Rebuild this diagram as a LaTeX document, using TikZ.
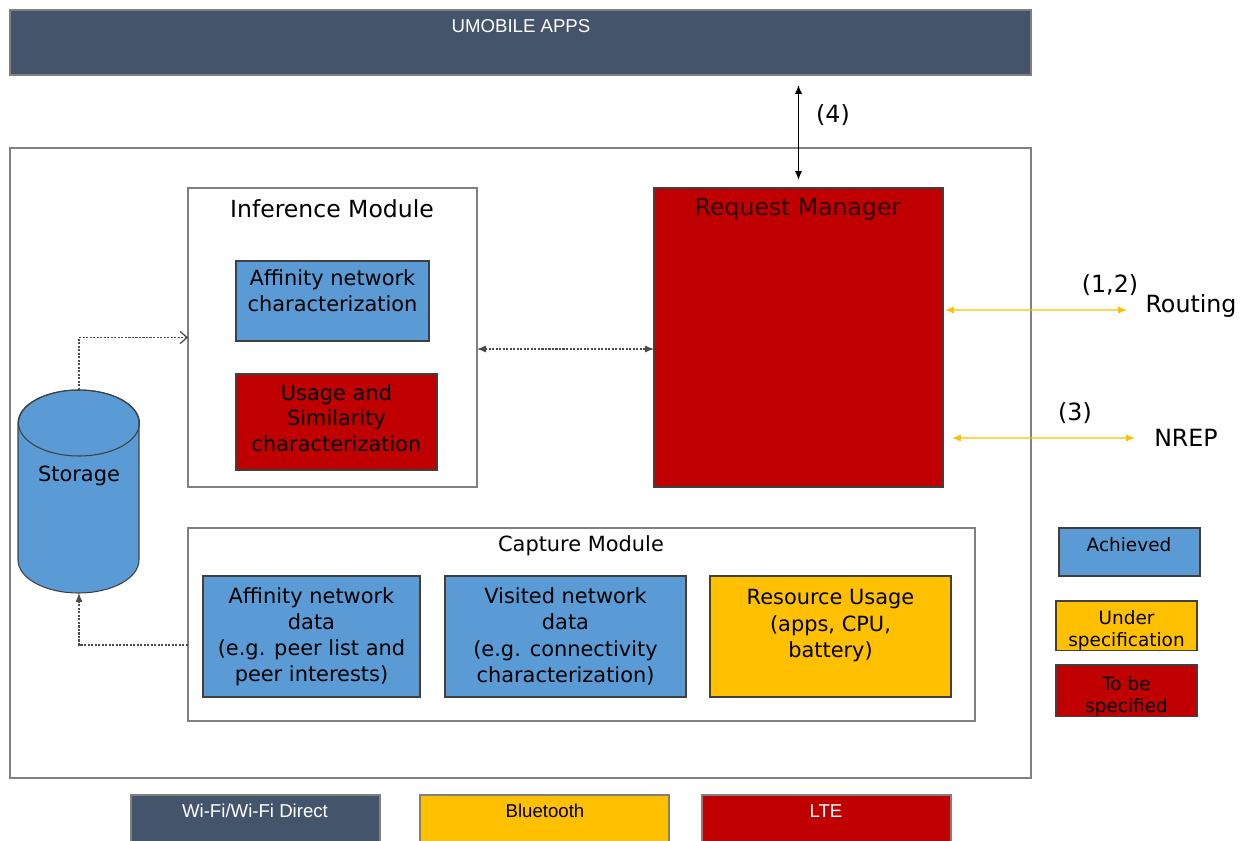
\documentclass[tikz,border=0pt]{standalone}
\usepackage{fontspec}
\setmainfont{DejaVu Sans}
\newfontfamily\arialf{Liberation Sans}
\usetikzlibrary{arrows.meta}
\definecolor{slate}{HTML}{44546A}
\definecolor{cblue}{HTML}{5B9BD5}
\definecolor{cred}{HTML}{C00000}
\definecolor{cyel}{HTML}{FFC000}
\definecolor{bord}{HTML}{404040}
\definecolor{gbord}{HTML}{808080}
\begin{document}
\begin{tikzpicture}[x=0.02cm,y=-0.02cm,
  sz/.style 2 args={minimum width=#1*0.02cm, minimum height=#2*0.02cm, inner sep=0pt, outer sep=0pt, anchor=north west},
  blk/.style={draw=bord, line width=0.6pt, align=center, font=\fontsize{11.9}{14.9}\selectfont},
  bluebox/.style={blk, fill=cblue},
  redbox/.style={blk, fill=cred},
  yelbox/.style={blk, fill=cyel},
  frame/.style={draw=gbord, line width=0.8pt, fill=white},
  ttl/.style={font=\fontsize{13.4}{16}\selectfont, inner sep=0pt},
  ttlsm/.style={font=\fontsize{11.9}{14}\selectfont, inner sep=0pt},
  side/.style={font=\fontsize{13.5}{16}\selectfont, inner sep=0pt},
  legend/.style={blk, font=\fontsize{10.5}{12.5}\selectfont},
  bar/.style={draw=gbord, line width=0.6pt},
  bartext/.style={font=\arialf\fontsize{10.6}{12}\selectfont, inner sep=0pt},
  dots/.style={draw=black!70, line width=0.7pt, dash pattern=on 1.2pt off 0.8pt},
  orng/.style={draw=cyel, line width=0.7pt, {Latex[length=5pt,width=4pt]}-{Latex[length=5pt,width=4pt]}}
]
\useasboundingbox (0,0) rectangle (1241,841);

% top bar
\node[bar, fill=slate, sz={1021}{65}] (apps) at (10,10) {};
\node[bartext, text=white] (appst) at (521,26) {UMOBILE APPS};

% outer frame
\node[frame, sz={1021}{630}] (outer) at (10,148) {};

% inference module
\node[frame, sz={289}{299}] (inf) at (188,188) {};
\node[ttl] (inft) at (332,209) {Inference Module};
\node[bluebox, sz={193}{80}] (affc) at (236,261) {Affinity network\\characterization\rule[-12pt]{0pt}{1pt}};
\node[redbox, sz={201}{96}, font=\fontsize{11.9}{14.6}\selectfont] (usage) at (236,374) {Usage and\\Similarity\\characterization\rule[-4.5pt]{0pt}{1pt}};

% request manager
\node[redbox, sz={289}{299}] (rm) at (654,188) {};
\node[ttl, text=black!80!red] (rmt) at (798,209) {Request Manager};

% capture module
\node[frame, sz={787}{193}] (cap) at (188,528) {};
\node[ttlsm] (capt) at (581,546) {Capture Module};
\node[bluebox, sz={217}{121}] (affd) at (203,576) {Affinity network\\data\\(e.g. peer list and\\peer interests)};
\node[bluebox, sz={241}{121}] (vis) at (445,576) {Visited network\\data\\(e.g. connectivity\\characterization)};
\node[yelbox, sz={241}{121}] (res) at (710,576) {Resource Usage\\(apps, CPU,\\battery)\\\mbox{}};

% storage cylinder
\filldraw[fill=cblue, draw=bord, line width=0.6pt] (18,423) -- (18,560)
  arc[start angle=180, end angle=360, x radius=1.21cm, y radius=0.66cm] -- (139,423)
  arc[start angle=0, end angle=180, x radius=1.21cm, y radius=0.66cm] -- cycle;
\draw[bord, line width=0.6pt] (79,423) ellipse[x radius=1.21cm, y radius=0.66cm];
\node[ttlsm] (stor) at (79,476) {Storage};
\coordinate (stortop) at (79,390);
\coordinate (storbot) at (79,593);
\coordinate (capl) at (188,645);

% dotted connectors
\draw[dots, -{Straight Barb[length=4pt,width=7pt]}] (stortop) |- (inf.west);
\draw[dots, -{Latex[length=5pt,width=4pt]}] (capl) -| (storbot);
\draw[dots, {Latex[length=5pt,width=4pt]}-{Latex[length=5pt,width=4pt]}] ([yshift=-0.23cm]inf.east) -- ([yshift=-0.23cm]rm.west);

% (4) arrow
\draw[black, line width=0.7pt, {Latex[length=5pt,width=4pt]}-{Latex[length=5pt,width=4pt]}, shorten <=0.2cm, shorten >=0.16cm] (apps.south -| rm.north) -- (rm.north);
\node[side] (l4) at (833,115) {(4)};

% routing / NREP
\coordinate (routend) at (1127,310);
\coordinate (nrepend) at (1135,438);
\draw[orng, shorten <=0.04cm] ([yshift=0.55cm]rm.east) -- (routend);
\draw[orng, shorten <=0.18cm] ([yshift=-2.01cm]rm.east) -- (nrepend);
\node[side] (l12) at (1110,285) {(1,2)};
\node[side] (rout) at (1191,306) {Routing};
\node[side] (l3) at (1075,413) {(3)};
\node[side] (nrep) at (1186,438) {NREP};

% legend
\node[legend, fill=cblue, sz={141}{48}] (ach) at (1059,528) {};
\node[font=\fontsize{10.5}{12.5}\selectfont, inner sep=0pt] (acht) at (1129,545) {Achieved};
\node[legend, fill=cyel, sz={141}{49}] (und) at (1056,601) {\rule{0pt}{13.4pt}Under\\specification};
\node[legend, fill=cred, sz={141}{49}] (tbs) at (1056,665) {\rule{0pt}{14.5pt}To be\\specified};

% bottom technology bars
\node[bar, fill=slate, sz={249}{50}] (wifi) at (131,795) {};
\node[bartext, text=white] (wifit) at (255,811) {Wi-Fi/Wi-Fi Direct};
\node[bar, fill=cyel, sz={249}{50}] (bt) at (420,795) {};
\node[bartext, text=black] (btt) at (545,811) {Bluetooth};
\node[bar, fill=cred, sz={249}{50}] (lte) at (702,795) {};
\node[bartext, text=white] (ltet) at (826,811) {LTE};
\end{tikzpicture}
\end{document}
